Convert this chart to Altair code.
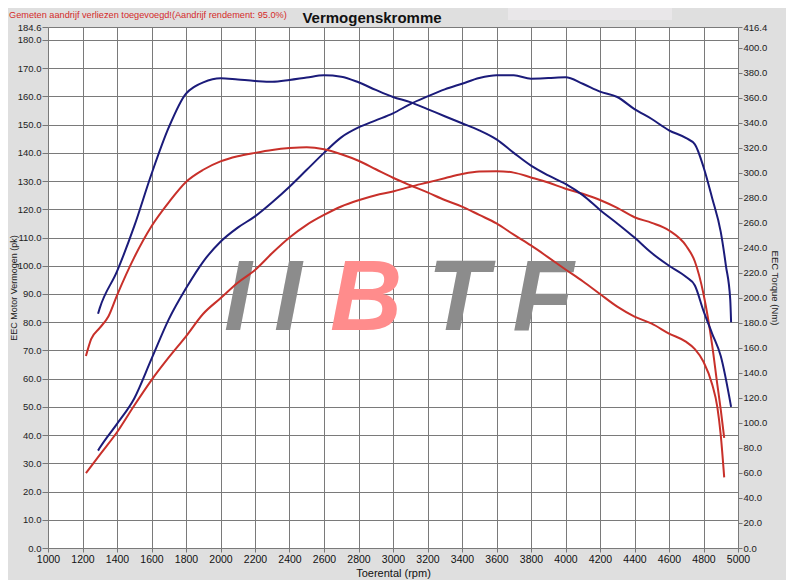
import altair as alt
import pandas as pd

# ---------------- data ----------------
# Tuned power (pk)
rpm_tuned_power = [1290, 1300, 1400, 1500, 1600, 1700, 1800, 1900, 2000, 2100, 2200, 2300,
                   2400, 2500, 2600, 2700, 2800, 2900, 3000, 3100, 3200, 3300, 3400, 3500,
                   3600, 3700, 3800, 3900, 4000, 4100, 4200, 4300, 4400, 4500, 4600, 4700,
                   4750, 4800, 4850, 4900, 4930, 4955, 4960]
tuned_power = [34.5, 35.5, 44.0, 53.0, 67.0, 81.0, 92.0, 101.5, 108.5, 113.5, 117.5, 122.5,
               128.0, 134.0, 140.0, 145.5, 149.0, 151.5, 154.0, 157.3, 160.0, 162.5, 164.5, 166.5,
               167.5, 167.5, 166.3, 166.5, 166.8, 164.5, 161.7, 159.8, 155.5, 152.0, 148.0, 145.2,
               143.0, 135.0, 124.0, 112.0, 100.0, 88.0, 80.0]

# Stock power (pk)
rpm_stock_power = [1220, 1300, 1400, 1500, 1600, 1700, 1800, 1900, 2000, 2100, 2200, 2300,
                   2400, 2500, 2600, 2700, 2800, 2900, 3000, 3100, 3200, 3300, 3400, 3500,
                   3600, 3700, 3800, 3900, 4000, 4100, 4200, 4300, 4400, 4500, 4600, 4700,
                   4750, 4800, 4850, 4880, 4900, 4920]
stock_power = [26.5, 33.0, 41.0, 50.5, 59.5, 67.5, 75.0, 83.0, 88.5, 94.0, 98.5, 104.5,
               110.0, 114.5, 118.0, 121.0, 123.2, 125.0, 126.3, 128.0, 129.5, 131.0, 132.5, 133.4,
               133.5, 133.0, 131.3, 129.5, 127.3, 125.5, 123.3, 120.5, 117.2, 115.2, 112.5, 107.0,
               101.5, 90.0, 72.0, 58.0, 49.0, 39.0]

# Tuned torque (Nm)
rpm_tuned_torque = [1290, 1300, 1400, 1500, 1600, 1700, 1800, 1850, 1900, 2000, 2100, 2200,
                    2300, 2400, 2500, 2600, 2700, 2800, 2900, 3000, 3100, 3200, 3300, 3400,
                    3500, 3600, 3700, 3800, 3900, 4000, 4100, 4200, 4300, 4400, 4500, 4600,
                    4700, 4750, 4800, 4850, 4900, 4960]
tuned_torque = [187.2, 191.7, 221.1, 257.2, 298.9, 336.1, 363.2, 368.8, 372.2, 375.4, 374.4, 373.3,
                372.6, 374.0, 376.0, 377.8, 376.7, 372.2, 366.1, 360.5, 356.4, 350.8, 345.1, 339.5,
                333.8, 326.6, 315.8, 305.6, 297.8, 291.0, 282.0, 270.2, 259.4, 248.1, 235.7, 225.6,
                216.5, 209.8, 189.5, 171.4, 153.4, 112.8]

# Stock torque (Nm)
rpm_stock_torque = [1220, 1250, 1300, 1350, 1400, 1500, 1600, 1700, 1800, 1900, 2000, 2100,
                    2200, 2300, 2400, 2500, 2600, 2700, 2800, 2900, 3000, 3100, 3200, 3300,
                    3400, 3500, 3600, 3700, 3800, 3900, 4000, 4100, 4200, 4300, 4400, 4500,
                    4600, 4700, 4750, 4800, 4850, 4880, 4900, 4920]
stock_torque = [153.4, 166.9, 175.9, 185.0, 201.9, 232.3, 257.2, 276.3, 292.6, 302.3, 309.0, 313.1,
                315.8, 318.1, 319.6, 320.3, 318.7, 314.7, 309.5, 302.7, 295.9, 289.9, 284.2, 278.1,
                272.9, 266.2, 259.4, 250.4, 241.8, 232.3, 222.6, 213.2, 203.0, 192.9, 185.0, 179.3,
                171.4, 164.7, 159.0, 148.9, 130.8, 112.8, 90.2, 56.4]

x_ticks = list(range(1000, 5001, 200))
pk_ticks = [float(v) for v in range(0, 181, 10)] + [184.6]
nm_ticks = [float(v) for v in range(0, 401, 20)] + [416.4]

series_names = ["Tuned vermogen", "Standaard vermogen", "Tuned koppel", "Standaard koppel"]
series_colors = ["#1b1b7a", "#c8302a", "#1b1b7a", "#c8302a"]

title_text = ["Vermogenskromme"]
note_text = ["Gemeten aandrijf verliezen toegevoegd!(Aandrijf rendement: 95.0%)"]

# ---------------- tables ----------------
def frame(rpm, vals, name):
    return pd.DataFrame({"rpm": rpm, "val": vals, "series": name})

power_df = pd.concat([frame(rpm_tuned_power, tuned_power, series_names[0]),
                      frame(rpm_stock_power, stock_power, series_names[1])])
torque_df = pd.concat([frame(rpm_tuned_torque, tuned_torque, series_names[2]),
                       frame(rpm_stock_torque, stock_torque, series_names[3])])

FONT = "Liberation Sans"
color = alt.Color("series:N", scale=alt.Scale(domain=series_names, range=series_colors), legend=None)

x_enc = alt.X("rpm:Q",
              scale=alt.Scale(domain=[1000, 5000], nice=False, zero=False),
              axis=alt.Axis(values=x_ticks, format="d", title="Toerental (rpm)", grid=True,
                            gridColor="#7a7a7a", gridWidth=1, domain=False, tickColor="#777",
                            tickSize=4, labelFontSize=10.5, labelColor="#111", labelPadding=2,
                            labelFlush=False,
                            titleFontSize=11, titleFontWeight="normal", titleColor="#111",
                            titlePadding=3, labelOverlap=False, labelFont=FONT, titleFont=FONT))

power = alt.Chart(power_df).mark_line(strokeWidth=2, interpolate="monotone").encode(
    x=x_enc,
    y=alt.Y("val:Q",
            scale=alt.Scale(domain=[0, 184.6], nice=False, zero=True),
            axis=alt.Axis(orient="left", values=pk_ticks, format=".1f",
                          title="EEC Motor Vermogen (pk)", grid=True, gridColor="#7a7a7a",
                          gridWidth=1, domain=False, tickColor="#777", tickSize=6,
                          labelFontSize=9.5, labelColor="#222", labelPadding=1,
                          labelFlush=False,
                          titleFontSize=9, titleFontWeight="normal", titleColor="#222",
                          titleX=-39, titleY=260.5, titleAlign="center", titleBaseline="top",
                          labelOverlap=False, labelFont=FONT, titleFont=FONT)),
    color=color,
)

torque = alt.Chart(torque_df).mark_line(strokeWidth=2, interpolate="monotone").encode(
    x=x_enc,
    y=alt.Y("val:Q",
            scale=alt.Scale(domain=[0, 416.4], nice=False, zero=True),
            axis=alt.Axis(orient="right", values=nm_ticks, format=".1f",
                          title="EEC Torque (Nm)", grid=False, domain=False, tickColor="#777",
                          tickSize=4, labelFontSize=9.5, labelColor="#222", labelPadding=1,
                          labelFlush=False,
                          titleFontSize=9.5, titleFontWeight="normal", titleColor="#222",
                          titlePadding=3, labelOverlap=False, labelFont=FONT, titleFont=FONT)),
    color=color,
)

one = pd.DataFrame({"k": [0]})

top_box = alt.Chart(one).mark_rect(color="#e9e7e9").encode(
    x=alt.value(460), x2=alt.value(624), y=alt.value(-19), y2=alt.value(-7))

title = alt.Chart(pd.DataFrame({"t": title_text})).mark_text(
    font=FONT, fontSize=15, fontWeight="bold", color="#111", align="center", baseline="middle"
).encode(text="t:N", x=alt.value(324), y=alt.value(-9))

note = alt.Chart(pd.DataFrame({"t": note_text})).mark_text(
    font=FONT, fontSize=9.2, color="#d42a2a", align="left", baseline="middle"
).encode(text="t:N", x=alt.value(-39), y=alt.value(-12))

# watermark logo (approximation with letters)
wm_letters = ["I", "I", "B", "T", "F"]
wm_colors = ["#8c8c8c", "#8c8c8c", "#ff8c8c", "#8c8c8c", "#8c8c8c"]
wm_x = [190, 240, 318, 410, 495]
wm = []
for letter, c, xx in zip(wm_letters, wm_colors, wm_x):
    wm.append(alt.Chart(pd.DataFrame({"t": [letter]})).mark_text(
        font=FONT, fontSize=100, fontWeight="bold", fontStyle="italic", color=c,
        align="center", baseline="alphabetic"
    ).encode(text="t:N", x=alt.value(xx), y=alt.value(303)))

chart = alt.layer(
    top_box, *wm, power, torque, title, note
).resolve_scale(y="independent", color="shared").properties(
    width=690, height=521,
    autosize=alt.AutoSizeParams(type="none"),
    padding={"left": 40, "top": 19, "right": 48, "bottom": 32},
).configure(background="#dfdfdf", font=FONT).configure_view(fill="white", stroke="transparent")

chart.save("out.html", embed_options={"renderer": "svg", "actions": False})
